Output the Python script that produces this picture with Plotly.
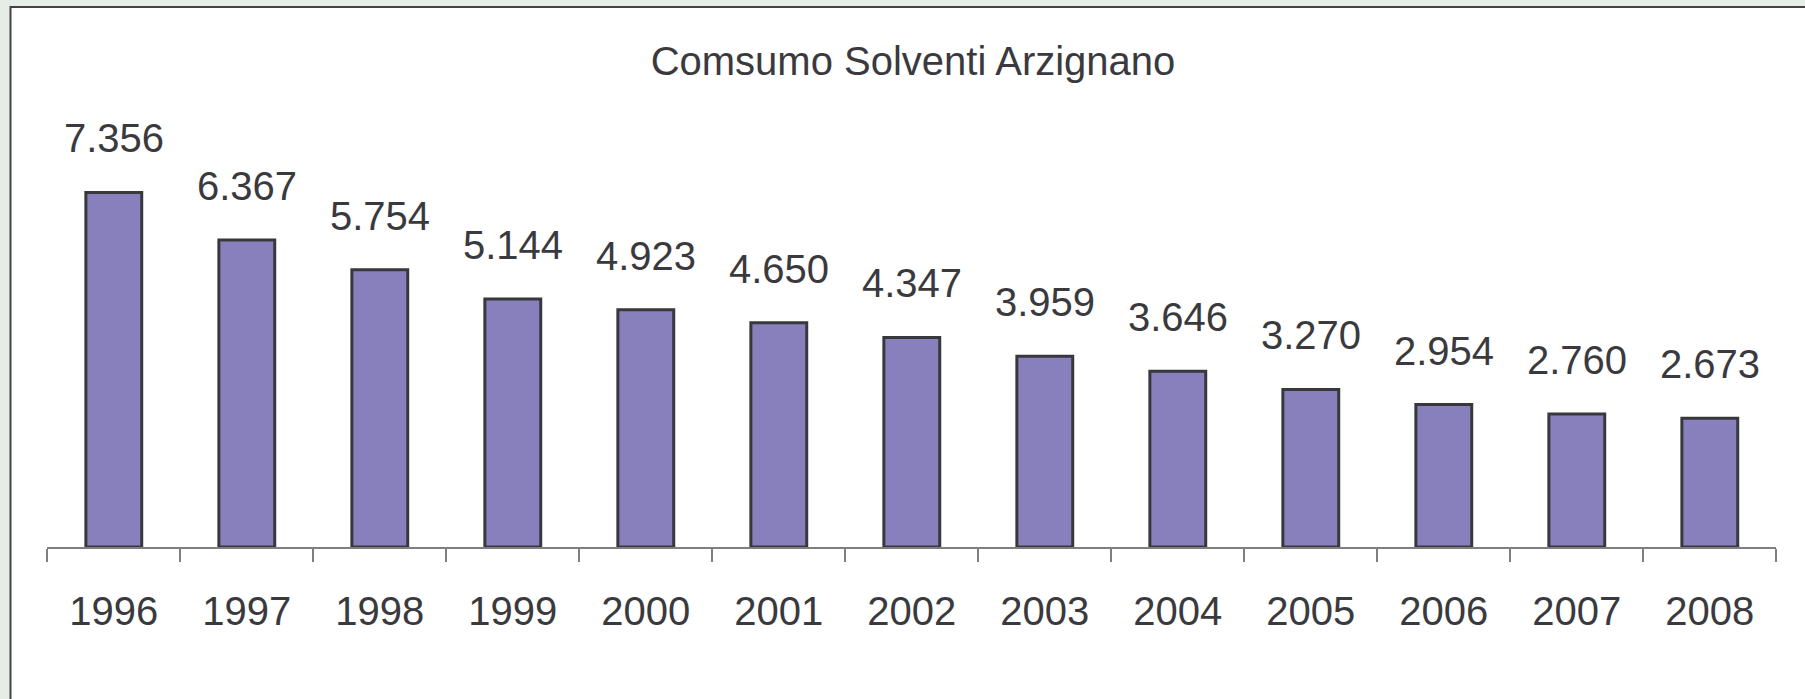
import plotly.graph_objects as go

years = ["1996", "1997", "1998", "1999", "2000", "2001", "2002",
         "2003", "2004", "2005", "2006", "2007", "2008"]
consumo = [7356, 6367, 5754, 5144, 4923, 4650, 4347,
           3959, 3646, 3270, 2954, 2760, 2673]
title_text = "Comsumo Solventi Arzignano"

W, H = 1805, 699
FONT = "Liberation Sans Narrow, Liberation Sans, Arial, sans-serif"
TXT = "#3a3a3e"
FS = 40

def fmt(v):
    return f"{v:,}".replace(",", ".")

fig = go.Figure()
fig.add_trace(go.Bar(
    x=years, y=consumo, width=0.42,
    marker=dict(color="#8780bd", line=dict(color="#38383c", width=3)),
    hoverinfo="skip",
))

for i, v in enumerate(consumo):
    fig.add_annotation(x=i, y=v, text=fmt(v), showarrow=False,
                       xref="x", yref="y", yanchor="bottom", yshift=30,
                       font=dict(family=FONT, size=FS, color=TXT))

base_px = 547
fig.update_layout(
    width=W, height=H,
    margin=dict(l=0, r=0, t=0, b=0),
    paper_bgcolor="#e6ece6",
    plot_bgcolor="rgba(0,0,0,0)",
    showlegend=False,
    title=dict(text=title_text, x=913 / W, xanchor="center",
               y=1 - 61 / H, yanchor="middle", yref="container",
               font=dict(family=FONT, size=40, color=TXT)),
    xaxis=dict(type="category", domain=[47.3 / W, 1776.3 / W], range=[-0.5, 12.5],
               showline=True, linecolor="#7f7f7f", linewidth=1.5,
               ticks="outside", tickson="boundaries", ticklen=13,
               tickcolor="#7f7f7f", tickwidth=1.5, ticklabelstandoff=28,
               tickfont=dict(family=FONT, size=FS, color=TXT),
               showgrid=False, zeroline=False, fixedrange=True),
    yaxis=dict(domain=[(H - base_px) / H, 1], range=[0, base_px / 0.0482],
               visible=False, showgrid=False, zeroline=False, fixedrange=True),
    shapes=[dict(type="rect", xref="paper", yref="paper",
                 x0=10.5 / W, x1=1.05, y0=-0.05, y1=1 - 7 / H,
                 fillcolor="white", line=dict(color="#444448", width=2),
                 layer="below")],
)

fig.write_html("out.html", config={"displayModeBar": False},
               post_script="document.body.style.margin='0';document.body.style.overflow='hidden';")
